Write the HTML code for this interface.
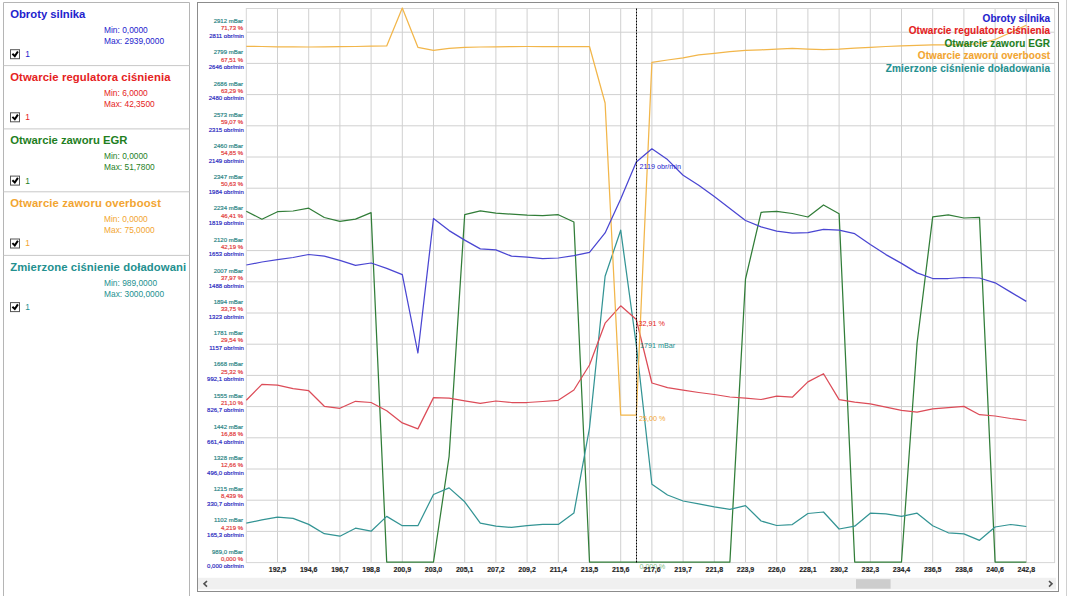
<!DOCTYPE html>
<html><head><meta charset="utf-8"><style>
html,body{margin:0;padding:0;background:#fff;width:1074px;height:596px;overflow:hidden}
svg{position:absolute;left:0;top:0;font-family:"Liberation Sans",sans-serif}
</style></head><body>
<svg width="1074" height="596" viewBox="0 0 1074 596">
<path d="M3.5,596 V2.5 H189.5 V596" stroke="#b5b5b5" stroke-width="1" fill="none"/>
<text x="10.2" y="17.7" textLength="75.2" lengthAdjust="spacing" font-size="11.3" font-weight="bold" fill="#2323cd">Obroty silnika</text>
<text x="104" y="33.0" font-size="8.4" fill="#2323cd">Min: 0,0000</text>
<text x="104" y="43.8" font-size="8.4" fill="#2323cd">Max: 2939,0000</text>
<rect x="10.5" y="49.7" width="9" height="9" fill="#fff" stroke="#555" stroke-width="1"/>
<path d="M12.4,53.8 L14.8,56.1 L17.9,51.5" stroke="#000" stroke-width="2" fill="none"/>
<text x="25.2" y="57.1" font-size="8.4" fill="#2323cd">1</text>
<line x1="3.5" y1="65.6" x2="189.5" y2="65.6" stroke="#c8c8c8" stroke-width="1"/>
<text x="10.2" y="80.8" textLength="160.3" lengthAdjust="spacing" font-size="11.3" font-weight="bold" fill="#e52222">Otwarcie regulatora ciśnienia</text>
<text x="104" y="96.1" font-size="8.4" fill="#e52222">Min: 6,0000</text>
<text x="104" y="106.9" font-size="8.4" fill="#e52222">Max: 42,3500</text>
<rect x="10.5" y="112.8" width="9" height="9" fill="#fff" stroke="#555" stroke-width="1"/>
<path d="M12.4,116.9 L14.8,119.2 L17.9,114.6" stroke="#000" stroke-width="2" fill="none"/>
<text x="25.2" y="120.2" font-size="8.4" fill="#e52222">1</text>
<line x1="3.5" y1="128.9" x2="189.5" y2="128.9" stroke="#c8c8c8" stroke-width="1"/>
<text x="10.2" y="144.1" textLength="117.2" lengthAdjust="spacing" font-size="11.3" font-weight="bold" fill="#1f7f1f">Otwarcie zaworu EGR</text>
<text x="104" y="159.4" font-size="8.4" fill="#1f7f1f">Min: 0,0000</text>
<text x="104" y="170.2" font-size="8.4" fill="#1f7f1f">Max: 51,7800</text>
<rect x="10.5" y="176.1" width="9" height="9" fill="#fff" stroke="#555" stroke-width="1"/>
<path d="M12.4,180.2 L14.8,182.5 L17.9,177.9" stroke="#000" stroke-width="2" fill="none"/>
<text x="25.2" y="183.5" font-size="8.4" fill="#1f7f1f">1</text>
<line x1="3.5" y1="191.8" x2="189.5" y2="191.8" stroke="#c8c8c8" stroke-width="1"/>
<text x="10.2" y="207.0" textLength="150.7" lengthAdjust="spacing" font-size="11.3" font-weight="bold" fill="#f2a531">Otwarcie zaworu overboost</text>
<text x="104" y="222.3" font-size="8.4" fill="#f2a531">Min: 0,0000</text>
<text x="104" y="233.1" font-size="8.4" fill="#f2a531">Max: 75,0000</text>
<rect x="10.5" y="239.0" width="9" height="9" fill="#fff" stroke="#555" stroke-width="1"/>
<path d="M12.4,243.1 L14.8,245.4 L17.9,240.8" stroke="#000" stroke-width="2" fill="none"/>
<text x="25.2" y="246.4" font-size="8.4" fill="#f2a531">1</text>
<line x1="3.5" y1="255.4" x2="189.5" y2="255.4" stroke="#c8c8c8" stroke-width="1"/>
<text x="10.2" y="270.6" textLength="176.0" lengthAdjust="spacing" font-size="11.3" font-weight="bold" fill="#23908f">Zmierzone ciśnienie doładowani</text>
<text x="104" y="285.9" font-size="8.4" fill="#23908f">Min: 989,0000</text>
<text x="104" y="296.7" font-size="8.4" fill="#23908f">Max: 3000,0000</text>
<rect x="10.5" y="302.6" width="9" height="9" fill="#fff" stroke="#555" stroke-width="1"/>
<path d="M12.4,306.7 L14.8,309.0 L17.9,304.4" stroke="#000" stroke-width="2" fill="none"/>
<text x="25.2" y="310.0" font-size="8.4" fill="#23908f">1</text>
<path d="M277.50,8.5 V562.6 M308.70,8.5 V562.6 M339.90,8.5 V562.6 M371.10,8.5 V562.6 M402.30,8.5 V562.6 M433.50,8.5 V562.6 M464.70,8.5 V562.6 M495.90,8.5 V562.6 M527.10,8.5 V562.6 M558.30,8.5 V562.6 M589.50,8.5 V562.6 M620.70,8.5 V562.6 M651.90,8.5 V562.6 M683.10,8.5 V562.6 M714.30,8.5 V562.6 M745.50,8.5 V562.6 M776.70,8.5 V562.6 M807.90,8.5 V562.6 M839.10,8.5 V562.6 M870.30,8.5 V562.6 M901.50,8.5 V562.6 M932.70,8.5 V562.6 M963.90,8.5 V562.6 M995.10,8.5 V562.6 M1026.30,8.5 V562.6 M246.3,531.40 H1054.6 M246.3,500.20 H1054.6 M246.3,469.00 H1054.6 M246.3,437.80 H1054.6 M246.3,406.60 H1054.6 M246.3,375.40 H1054.6 M246.3,344.20 H1054.6 M246.3,313.00 H1054.6 M246.3,281.80 H1054.6 M246.3,250.60 H1054.6 M246.3,219.40 H1054.6 M246.3,188.20 H1054.6 M246.3,157.00 H1054.6 M246.3,125.80 H1054.6 M246.3,94.60 H1054.6 M246.3,63.40 H1054.6 M246.3,32.20 H1054.6" stroke="#d0d0d0" stroke-width="1" fill="none"/>
<rect x="246.3" y="8.5" width="808.30" height="554.10" stroke="#d6d6d6" stroke-width="1" fill="none"/>
<path d="M246.30,211.20 L261.90,219.20 L277.50,211.70 L293.10,211.00 L308.70,208.20 L324.30,217.50 L339.90,221.30 L355.50,219.20 L371.10,212.70 L386.70,562.00 L402.30,562.00 L417.90,562.00 L433.50,562.00 L449.10,456.50 L464.70,214.70 L480.30,210.90 L495.90,213.20 L511.50,214.20 L527.10,215.20 L542.70,215.70 L558.30,214.70 L573.90,222.00 L589.50,562.00 L605.10,562.00 L620.70,562.00 L636.30,562.00 L651.90,562.00 L667.50,562.00 L683.10,562.00 L698.70,562.00 L714.30,562.00 L729.90,562.00 L745.50,279.00 L761.10,212.30 L776.70,211.30 L792.30,213.50 L807.90,217.00 L823.50,205.00 L839.10,213.80 L854.70,562.00 L870.30,562.00 L885.90,562.00 L901.50,562.00 L917.10,343.00 L932.70,216.80 L948.30,214.80 L963.90,218.00 L979.50,217.30 L995.10,562.00 L1010.70,562.00 L1026.30,562.00" stroke="#317d38" stroke-width="1.25" fill="none" stroke-linejoin="round"/>
<path d="M246.30,523.10 L261.90,519.90 L277.50,517.10 L293.10,518.40 L308.70,524.40 L324.30,533.70 L339.90,536.20 L355.50,528.20 L371.10,531.20 L386.70,516.40 L402.30,525.70 L417.90,525.70 L433.50,494.50 L449.10,487.90 L464.70,501.80 L480.30,523.10 L495.90,526.20 L511.50,527.40 L527.10,525.70 L542.70,524.40 L558.30,524.40 L573.90,513.10 L589.50,428.00 L605.10,276.30 L620.70,230.20 L636.30,345.00 L651.90,484.20 L667.50,495.00 L683.10,501.00 L698.70,503.80 L714.30,506.80 L729.90,509.30 L745.50,505.60 L761.10,521.00 L776.70,525.50 L792.30,524.60 L807.90,513.50 L823.50,512.00 L839.10,529.00 L854.70,526.20 L870.30,513.20 L885.90,513.90 L901.50,516.40 L917.10,513.20 L932.70,525.70 L948.30,532.80 L963.90,533.80 L979.50,540.30 L995.10,527.00 L1010.70,524.50 L1026.30,526.50" stroke="#339494" stroke-width="1.25" fill="none" stroke-linejoin="round"/>
<path d="M246.30,400.30 L261.90,384.40 L277.50,385.20 L293.10,388.70 L308.70,390.70 L324.30,406.30 L339.90,408.30 L355.50,401.30 L371.10,402.50 L386.70,410.80 L402.30,422.90 L417.90,428.90 L433.50,397.60 L449.10,398.20 L464.70,400.80 L480.30,403.30 L495.90,401.00 L511.50,402.50 L527.10,402.50 L542.70,401.50 L558.30,400.30 L573.90,390.00 L589.50,365.00 L605.10,323.20 L620.70,305.80 L636.30,319.50 L651.90,383.00 L667.50,387.70 L683.10,390.20 L698.70,392.50 L714.30,394.50 L729.90,397.00 L745.50,398.20 L761.10,399.50 L776.70,396.20 L792.30,397.20 L807.90,381.90 L823.50,373.70 L839.10,399.60 L854.70,402.10 L870.30,403.90 L885.90,407.10 L901.50,410.40 L917.10,412.20 L932.70,408.90 L948.30,407.60 L963.90,406.40 L979.50,414.70 L995.10,416.00 L1010.70,418.50 L1026.30,420.50" stroke="#dc4c58" stroke-width="1.25" fill="none" stroke-linejoin="round"/>
<path d="M246.30,46.30 L261.90,46.50 L277.50,46.80 L293.10,46.90 L308.70,47.00 L324.30,46.90 L339.90,46.70 L355.50,46.50 L371.10,46.20 L386.70,46.00 L402.30,8.00 L417.90,47.30 L433.50,50.30 L449.10,48.30 L464.70,47.30 L480.30,47.00 L495.90,46.80 L511.50,46.60 L527.10,46.50 L542.70,46.50 L558.30,46.50 L573.90,46.50 L589.50,46.50 L605.10,103.00 L620.70,415.00 L636.30,415.00 L651.90,62.40 L667.50,60.00 L683.10,57.90 L698.70,54.80 L714.30,53.30 L729.90,51.60 L745.50,50.30 L761.10,49.80 L776.70,49.10 L792.30,48.30 L807.90,49.10 L823.50,49.60 L839.10,49.10 L854.70,48.20 L870.30,47.30 L885.90,46.50 L901.50,45.80 L917.10,45.30 L932.70,44.80 L948.30,44.80 L963.90,44.80 L979.50,43.50 L995.10,39.50 L1010.70,32.50 L1026.30,25.20" stroke="#f2b64a" stroke-width="1.25" fill="none" stroke-linejoin="round"/>
<path d="M246.30,265.00 L261.90,262.00 L277.50,259.70 L293.10,257.50 L308.70,254.50 L324.30,256.20 L339.90,260.30 L355.50,265.30 L371.10,263.00 L386.70,268.30 L402.30,274.60 L417.90,353.00 L433.50,218.50 L449.10,230.60 L464.70,240.10 L480.30,248.90 L495.90,249.90 L511.50,256.20 L527.10,257.20 L542.70,258.70 L558.30,258.00 L573.90,255.70 L589.50,252.30 L605.10,232.90 L620.70,199.00 L636.30,162.10 L651.90,148.80 L667.50,159.60 L683.10,175.20 L698.70,185.30 L714.30,196.60 L729.90,208.40 L745.50,220.50 L761.10,226.80 L776.70,231.10 L792.30,233.10 L807.90,232.60 L823.50,229.40 L839.10,230.10 L854.70,233.70 L870.30,244.50 L885.90,254.60 L901.50,263.40 L917.10,272.90 L932.70,278.50 L948.30,278.50 L963.90,277.50 L979.50,278.00 L995.10,282.80 L1010.70,292.10 L1026.30,301.40" stroke="#4a46d2" stroke-width="1.25" fill="none" stroke-linejoin="round"/>
<text x="982.6" y="21.5" textLength="67.5" lengthAdjust="spacing" font-size="10" font-weight="bold" fill="#2323cd" stroke="#2323cd" stroke-width="0.1">Obroty silnika</text>
<text x="908.7" y="34.1" textLength="141.4" lengthAdjust="spacing" font-size="10" font-weight="bold" fill="#e52222" stroke="#e52222" stroke-width="0.1">Otwarcie regulatora ciśnienia</text>
<text x="944.5" y="46.6" textLength="105.6" lengthAdjust="spacing" font-size="10" font-weight="bold" fill="#1f7f1f" stroke="#1f7f1f" stroke-width="0.1">Otwarcie zaworu EGR</text>
<text x="917.8" y="59.1" textLength="132.3" lengthAdjust="spacing" font-size="10" font-weight="bold" fill="#f2a531" stroke="#f2a531" stroke-width="0.1">Otwarcie zaworu overboost</text>
<text x="885.7" y="71.7" textLength="164.4" lengthAdjust="spacing" font-size="10" font-weight="bold" fill="#23908f" stroke="#23908f" stroke-width="0.1">Zmierzone ciśnienie doładowania</text>
<line x1="636.5" y1="8.5" x2="636.5" y2="562.6" stroke="#000" stroke-width="1" stroke-dasharray="2,1"/>
<text x="243" y="553.5" text-anchor="end" font-size="6" fill="#2a8585" stroke="#2a8585" stroke-width="0.18">989,0 mBar</text>
<text x="243" y="560.8" text-anchor="end" font-size="6" fill="#e23a3a" stroke="#e23a3a" stroke-width="0.18">0,000 %</text>
<text x="243.8" y="568.4" text-anchor="end" font-size="6" fill="#2828c0" stroke="#2828c0" stroke-width="0.18">0,000 obr/min</text>
<text x="243" y="522.3" text-anchor="end" font-size="6" fill="#2a8585" stroke="#2a8585" stroke-width="0.18">1102 mBar</text>
<text x="243" y="529.6" text-anchor="end" font-size="6" fill="#e23a3a" stroke="#e23a3a" stroke-width="0.18">4,219 %</text>
<text x="243.8" y="537.2" text-anchor="end" font-size="6" fill="#2828c0" stroke="#2828c0" stroke-width="0.18">165,3 obr/min</text>
<text x="243" y="491.1" text-anchor="end" font-size="6" fill="#2a8585" stroke="#2a8585" stroke-width="0.18">1215 mBar</text>
<text x="243" y="498.4" text-anchor="end" font-size="6" fill="#e23a3a" stroke="#e23a3a" stroke-width="0.18">8,439 %</text>
<text x="243.8" y="506.0" text-anchor="end" font-size="6" fill="#2828c0" stroke="#2828c0" stroke-width="0.18">330,7 obr/min</text>
<text x="243" y="459.9" text-anchor="end" font-size="6" fill="#2a8585" stroke="#2a8585" stroke-width="0.18">1328 mBar</text>
<text x="243" y="467.2" text-anchor="end" font-size="6" fill="#e23a3a" stroke="#e23a3a" stroke-width="0.18">12,66 %</text>
<text x="243.8" y="474.8" text-anchor="end" font-size="6" fill="#2828c0" stroke="#2828c0" stroke-width="0.18">496,0 obr/min</text>
<text x="243" y="428.7" text-anchor="end" font-size="6" fill="#2a8585" stroke="#2a8585" stroke-width="0.18">1442 mBar</text>
<text x="243" y="436.0" text-anchor="end" font-size="6" fill="#e23a3a" stroke="#e23a3a" stroke-width="0.18">16,88 %</text>
<text x="243.8" y="443.6" text-anchor="end" font-size="6" fill="#2828c0" stroke="#2828c0" stroke-width="0.18">661,4 obr/min</text>
<text x="243" y="397.5" text-anchor="end" font-size="6" fill="#2a8585" stroke="#2a8585" stroke-width="0.18">1555 mBar</text>
<text x="243" y="404.8" text-anchor="end" font-size="6" fill="#e23a3a" stroke="#e23a3a" stroke-width="0.18">21,10 %</text>
<text x="243.8" y="412.4" text-anchor="end" font-size="6" fill="#2828c0" stroke="#2828c0" stroke-width="0.18">826,7 obr/min</text>
<text x="243" y="366.3" text-anchor="end" font-size="6" fill="#2a8585" stroke="#2a8585" stroke-width="0.18">1668 mBar</text>
<text x="243" y="373.6" text-anchor="end" font-size="6" fill="#e23a3a" stroke="#e23a3a" stroke-width="0.18">25,32 %</text>
<text x="243.8" y="381.2" text-anchor="end" font-size="6" fill="#2828c0" stroke="#2828c0" stroke-width="0.18">992,1 obr/min</text>
<text x="243" y="335.1" text-anchor="end" font-size="6" fill="#2a8585" stroke="#2a8585" stroke-width="0.18">1781 mBar</text>
<text x="243" y="342.4" text-anchor="end" font-size="6" fill="#e23a3a" stroke="#e23a3a" stroke-width="0.18">29,54 %</text>
<text x="243.8" y="350.0" text-anchor="end" font-size="6" fill="#2828c0" stroke="#2828c0" stroke-width="0.18">1157 obr/min</text>
<text x="243" y="303.9" text-anchor="end" font-size="6" fill="#2a8585" stroke="#2a8585" stroke-width="0.18">1894 mBar</text>
<text x="243" y="311.2" text-anchor="end" font-size="6" fill="#e23a3a" stroke="#e23a3a" stroke-width="0.18">33,75 %</text>
<text x="243.8" y="318.8" text-anchor="end" font-size="6" fill="#2828c0" stroke="#2828c0" stroke-width="0.18">1323 obr/min</text>
<text x="243" y="272.7" text-anchor="end" font-size="6" fill="#2a8585" stroke="#2a8585" stroke-width="0.18">2007 mBar</text>
<text x="243" y="280.0" text-anchor="end" font-size="6" fill="#e23a3a" stroke="#e23a3a" stroke-width="0.18">37,97 %</text>
<text x="243.8" y="287.6" text-anchor="end" font-size="6" fill="#2828c0" stroke="#2828c0" stroke-width="0.18">1488 obr/min</text>
<text x="243" y="241.5" text-anchor="end" font-size="6" fill="#2a8585" stroke="#2a8585" stroke-width="0.18">2120 mBar</text>
<text x="243" y="248.8" text-anchor="end" font-size="6" fill="#e23a3a" stroke="#e23a3a" stroke-width="0.18">42,19 %</text>
<text x="243.8" y="256.4" text-anchor="end" font-size="6" fill="#2828c0" stroke="#2828c0" stroke-width="0.18">1653 obr/min</text>
<text x="243" y="210.3" text-anchor="end" font-size="6" fill="#2a8585" stroke="#2a8585" stroke-width="0.18">2234 mBar</text>
<text x="243" y="217.6" text-anchor="end" font-size="6" fill="#e23a3a" stroke="#e23a3a" stroke-width="0.18">46,41 %</text>
<text x="243.8" y="225.2" text-anchor="end" font-size="6" fill="#2828c0" stroke="#2828c0" stroke-width="0.18">1819 obr/min</text>
<text x="243" y="179.1" text-anchor="end" font-size="6" fill="#2a8585" stroke="#2a8585" stroke-width="0.18">2347 mBar</text>
<text x="243" y="186.4" text-anchor="end" font-size="6" fill="#e23a3a" stroke="#e23a3a" stroke-width="0.18">50,63 %</text>
<text x="243.8" y="194.0" text-anchor="end" font-size="6" fill="#2828c0" stroke="#2828c0" stroke-width="0.18">1984 obr/min</text>
<text x="243" y="147.9" text-anchor="end" font-size="6" fill="#2a8585" stroke="#2a8585" stroke-width="0.18">2460 mBar</text>
<text x="243" y="155.2" text-anchor="end" font-size="6" fill="#e23a3a" stroke="#e23a3a" stroke-width="0.18">54,85 %</text>
<text x="243.8" y="162.8" text-anchor="end" font-size="6" fill="#2828c0" stroke="#2828c0" stroke-width="0.18">2149 obr/min</text>
<text x="243" y="116.7" text-anchor="end" font-size="6" fill="#2a8585" stroke="#2a8585" stroke-width="0.18">2573 mBar</text>
<text x="243" y="124.0" text-anchor="end" font-size="6" fill="#e23a3a" stroke="#e23a3a" stroke-width="0.18">59,07 %</text>
<text x="243.8" y="131.6" text-anchor="end" font-size="6" fill="#2828c0" stroke="#2828c0" stroke-width="0.18">2315 obr/min</text>
<text x="243" y="85.5" text-anchor="end" font-size="6" fill="#2a8585" stroke="#2a8585" stroke-width="0.18">2686 mBar</text>
<text x="243" y="92.8" text-anchor="end" font-size="6" fill="#e23a3a" stroke="#e23a3a" stroke-width="0.18">63,29 %</text>
<text x="243.8" y="100.4" text-anchor="end" font-size="6" fill="#2828c0" stroke="#2828c0" stroke-width="0.18">2480 obr/min</text>
<text x="243" y="54.3" text-anchor="end" font-size="6" fill="#2a8585" stroke="#2a8585" stroke-width="0.18">2799 mBar</text>
<text x="243" y="61.6" text-anchor="end" font-size="6" fill="#e23a3a" stroke="#e23a3a" stroke-width="0.18">67,51 %</text>
<text x="243.8" y="69.2" text-anchor="end" font-size="6" fill="#2828c0" stroke="#2828c0" stroke-width="0.18">2646 obr/min</text>
<text x="243" y="23.1" text-anchor="end" font-size="6" fill="#2a8585" stroke="#2a8585" stroke-width="0.18">2912 mBar</text>
<text x="243" y="30.4" text-anchor="end" font-size="6" fill="#e23a3a" stroke="#e23a3a" stroke-width="0.18">71,73 %</text>
<text x="243.8" y="38.0" text-anchor="end" font-size="6" fill="#2828c0" stroke="#2828c0" stroke-width="0.18">2811 obr/min</text>
<text x="639.6" y="569" font-size="7" fill="#3c9a3c" opacity="0.65">0,000 %</text>
<text x="277.50" y="571.6" text-anchor="middle" font-size="7" font-weight="bold" fill="#1e1e1e" stroke="#1e1e1e" stroke-width="0.15">192,5</text>
<text x="308.70" y="571.6" text-anchor="middle" font-size="7" font-weight="bold" fill="#1e1e1e" stroke="#1e1e1e" stroke-width="0.15">194,6</text>
<text x="339.90" y="571.6" text-anchor="middle" font-size="7" font-weight="bold" fill="#1e1e1e" stroke="#1e1e1e" stroke-width="0.15">196,7</text>
<text x="371.10" y="571.6" text-anchor="middle" font-size="7" font-weight="bold" fill="#1e1e1e" stroke="#1e1e1e" stroke-width="0.15">198,8</text>
<text x="402.30" y="571.6" text-anchor="middle" font-size="7" font-weight="bold" fill="#1e1e1e" stroke="#1e1e1e" stroke-width="0.15">200,9</text>
<text x="433.50" y="571.6" text-anchor="middle" font-size="7" font-weight="bold" fill="#1e1e1e" stroke="#1e1e1e" stroke-width="0.15">203,0</text>
<text x="464.70" y="571.6" text-anchor="middle" font-size="7" font-weight="bold" fill="#1e1e1e" stroke="#1e1e1e" stroke-width="0.15">205,1</text>
<text x="495.90" y="571.6" text-anchor="middle" font-size="7" font-weight="bold" fill="#1e1e1e" stroke="#1e1e1e" stroke-width="0.15">207,2</text>
<text x="527.10" y="571.6" text-anchor="middle" font-size="7" font-weight="bold" fill="#1e1e1e" stroke="#1e1e1e" stroke-width="0.15">209,2</text>
<text x="558.30" y="571.6" text-anchor="middle" font-size="7" font-weight="bold" fill="#1e1e1e" stroke="#1e1e1e" stroke-width="0.15">211,4</text>
<text x="589.50" y="571.6" text-anchor="middle" font-size="7" font-weight="bold" fill="#1e1e1e" stroke="#1e1e1e" stroke-width="0.15">213,5</text>
<text x="620.70" y="571.6" text-anchor="middle" font-size="7" font-weight="bold" fill="#1e1e1e" stroke="#1e1e1e" stroke-width="0.15">215,6</text>
<text x="651.90" y="571.6" text-anchor="middle" font-size="7" font-weight="bold" fill="#1e1e1e" stroke="#1e1e1e" stroke-width="0.15">217,6</text>
<text x="683.10" y="571.6" text-anchor="middle" font-size="7" font-weight="bold" fill="#1e1e1e" stroke="#1e1e1e" stroke-width="0.15">219,7</text>
<text x="714.30" y="571.6" text-anchor="middle" font-size="7" font-weight="bold" fill="#1e1e1e" stroke="#1e1e1e" stroke-width="0.15">221,8</text>
<text x="745.50" y="571.6" text-anchor="middle" font-size="7" font-weight="bold" fill="#1e1e1e" stroke="#1e1e1e" stroke-width="0.15">223,9</text>
<text x="776.70" y="571.6" text-anchor="middle" font-size="7" font-weight="bold" fill="#1e1e1e" stroke="#1e1e1e" stroke-width="0.15">226,0</text>
<text x="807.90" y="571.6" text-anchor="middle" font-size="7" font-weight="bold" fill="#1e1e1e" stroke="#1e1e1e" stroke-width="0.15">228,1</text>
<text x="839.10" y="571.6" text-anchor="middle" font-size="7" font-weight="bold" fill="#1e1e1e" stroke="#1e1e1e" stroke-width="0.15">230,2</text>
<text x="870.30" y="571.6" text-anchor="middle" font-size="7" font-weight="bold" fill="#1e1e1e" stroke="#1e1e1e" stroke-width="0.15">232,3</text>
<text x="901.50" y="571.6" text-anchor="middle" font-size="7" font-weight="bold" fill="#1e1e1e" stroke="#1e1e1e" stroke-width="0.15">234,4</text>
<text x="932.70" y="571.6" text-anchor="middle" font-size="7" font-weight="bold" fill="#1e1e1e" stroke="#1e1e1e" stroke-width="0.15">236,5</text>
<text x="963.90" y="571.6" text-anchor="middle" font-size="7" font-weight="bold" fill="#1e1e1e" stroke="#1e1e1e" stroke-width="0.15">238,6</text>
<text x="995.10" y="571.6" text-anchor="middle" font-size="7" font-weight="bold" fill="#1e1e1e" stroke="#1e1e1e" stroke-width="0.15">240,6</text>
<text x="1026.30" y="571.6" text-anchor="middle" font-size="7" font-weight="bold" fill="#1e1e1e" stroke="#1e1e1e" stroke-width="0.15">242,8</text>
<text x="639.5" y="169.4" font-size="7.2" fill="#2323cd">2119 obr/min</text>
<text x="638.5" y="326.1" font-size="7.2" fill="#e52222">32,91 %</text>
<text x="640" y="347.9" font-size="7.2" fill="#23908f">1791 mBar</text>
<text x="639" y="421.2" font-size="7.2" fill="#f2a531">25,00 %</text>
<rect x="198" y="577.8" width="858" height="11.6" fill="#f0f0f0"/>
<rect x="856" y="579.2" width="34.6" height="9.5" fill="#cdcdcd"/>
<path d="M207,581 L204,583.8 L207,586.6" stroke="#505050" stroke-width="1.6" fill="none"/>
<path d="M1049,581 L1052,583.8 L1049,586.6" stroke="#505050" stroke-width="1.6" fill="none"/>
<rect x="197.5" y="2.5" width="861" height="589" stroke="#8c8c8c" stroke-width="1" fill="none"/>
<line x1="1066.5" y1="0" x2="1066.5" y2="596" stroke="#d0d0d0" stroke-width="1"/>
</svg>
</body></html>
